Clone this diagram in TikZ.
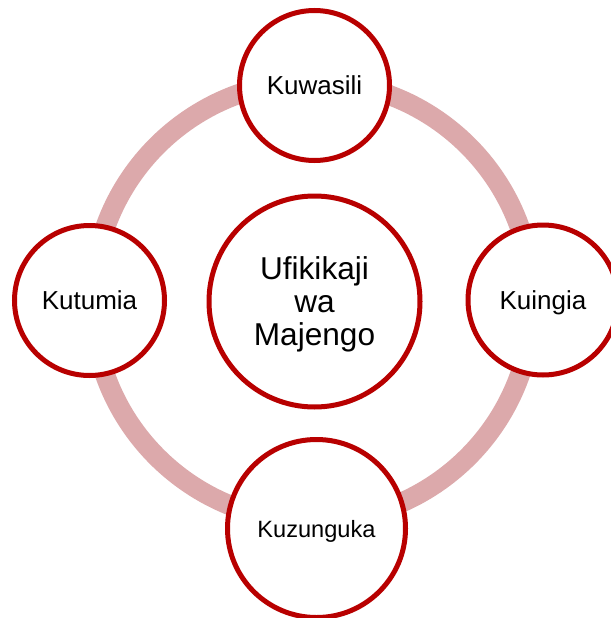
\documentclass[tikz,border=0pt]{standalone}
\usepackage{fontspec}
\setmainfont{Liberation Sans}
\definecolor{ringpink}{RGB}{220,169,171}
\definecolor{darkred}{RGB}{184,0,0}
\tikzset{
  ringline/.style={draw=ringpink, line width=20pt},
  bubble/.style={circle, draw=darkred, line width=5pt, fill=white, inner sep=0pt,
    align=center, text=black, text depth=0pt},
  small/.style={bubble, minimum size=150pt, font=\fontsize{26}{30}\selectfont},
}
\begin{document}
\begin{tikzpicture}[x=1pt,y=-1pt]
\useasboundingbox (0,0) rectangle (610,618);
\fill[white] (0,0) rectangle (610,618);
\coordinate (ringc) at (312.5,301.3);
\draw[ringline] (ringc) circle[radius=220pt];
\node[bubble, minimum size=211pt, font=\fontsize{31.6}{33}\selectfont] (center) at (314.5,301.5) {Ufikikaji\\wa\\Majengo};
\node[small] (top) at (314.5,85.5) {Kuwasili};
\node[small] (left) at (89.5,300.5) {Kutumia};
\node[small] (right) at (543,300) {Kuingia};
\node[bubble, minimum size=178pt, font=\fontsize{23.6}{28}\selectfont] (bottom) at (316.5,528.5) {Kuzunguka};
\end{tikzpicture}
\end{document}
